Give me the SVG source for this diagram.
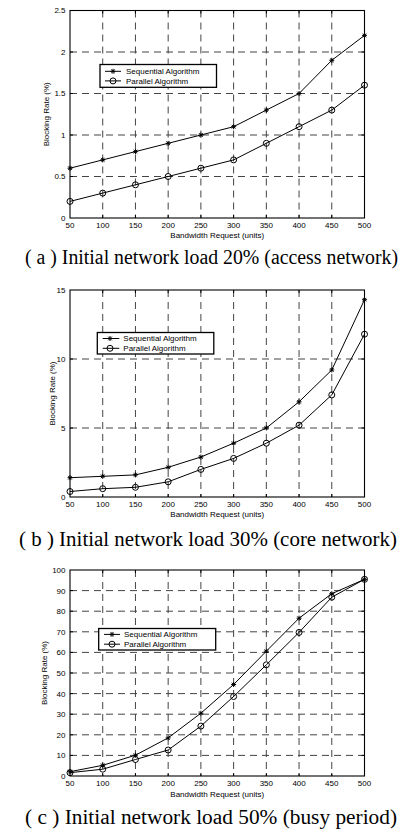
<svg xmlns="http://www.w3.org/2000/svg" width="411" height="830" viewBox="0 0 411 830">
<style>
.grid{stroke:#444;stroke-width:1;stroke-dasharray:7 5;fill:none}
.box{fill:none;stroke:#000;stroke-width:1.1}
.tk{stroke:#000;stroke-width:1;fill:none}
.data{fill:none;stroke:#000;stroke-width:1}
.lab{font-family:"Liberation Sans",Arial,sans-serif;font-size:8px;fill:#000}
.yl{text-anchor:end}
.xl{text-anchor:middle}
.cap{font-family:"Liberation Serif","Times New Roman",serif;font-size:20px;fill:#000}
.leg{fill:#fff;stroke:#000;stroke-width:1.3}
</style>
<defs>
<path id="star" d="M-2.5,0H2.5M0,-2.5V2.5M-1.8,-1.8L1.8,1.8M-1.8,1.8L1.8,-1.8" stroke="#000" stroke-width="1" fill="none"/>
<circle id="circ" r="3" fill="none" stroke="#000" stroke-width="1"/>
</defs>
<rect width="411" height="830" fill="#fff"/>

<!-- Chart A -->
<g id="chartA">
<g class="grid">
<path d="M102.72,10.5V218M135.44,10.5V218M168.17,10.5V218M200.89,10.5V218M233.61,10.5V218M266.33,10.5V218M299.06,10.5V218M331.78,10.5V218"/>
<path d="M70,176.5H364.5M70,135H364.5M70,93.5H364.5M70,52H364.5"/>
</g>
<path class="tk" d="M70,176.5h3M70,135h3M70,93.5h3M70,52h3M364.5,176.5h-3M364.5,135h-3M364.5,93.5h-3M364.5,52h-3M102.72,218v-3M135.44,218v-3M168.17,218v-3M200.89,218v-3M233.61,218v-3M266.33,218v-3M299.06,218v-3M331.78,218v-3M102.72,10.5v3M135.44,10.5v3M168.17,10.5v3M200.89,10.5v3M233.61,10.5v3M266.33,10.5v3M299.06,10.5v3M331.78,10.5v3"/>
<rect class="box" x="70" y="10.5" width="294.5" height="207.5"/>
<g class="lab yl">
<text x="65.5" y="220.9">0</text><text x="65.5" y="179.4">0.5</text><text x="65.5" y="137.9">1</text><text x="65.5" y="96.4">1.5</text><text x="65.5" y="54.9">2</text><text x="65.5" y="13.4">2.5</text>
</g>
<g class="lab xl">
<text x="70" y="227.5">50</text><text x="102.72" y="227.5">100</text><text x="135.44" y="227.5">150</text><text x="168.17" y="227.5">200</text><text x="200.89" y="227.5">250</text><text x="233.61" y="227.5">300</text><text x="266.33" y="227.5">350</text><text x="299.06" y="227.5">400</text><text x="331.78" y="227.5">450</text><text x="364.5" y="227.5">500</text>
<text x="217.25" y="237.5">Bandwidth Request (units)</text>
<text transform="translate(49,114.25) rotate(-90)">Blocking Rate (%)</text>
</g>
<polyline class="data" points="70,168.2 102.72,159.9 135.44,151.6 168.17,143.3 200.89,135 233.61,126.7 266.33,110.1 299.06,93.5 331.78,60.3 364.5,35.4"/>
<polyline class="data" points="70,201.4 102.72,193.1 135.44,184.8 168.17,176.5 200.89,168.2 233.61,159.9 266.33,143.3 299.06,126.7 331.78,110.1 364.5,85.2"/>
<g>
<use href="#star" x="70" y="168.2"/><use href="#star" x="102.72" y="159.9"/><use href="#star" x="135.44" y="151.6"/><use href="#star" x="168.17" y="143.3"/><use href="#star" x="200.89" y="135"/><use href="#star" x="233.61" y="126.7"/><use href="#star" x="266.33" y="110.1"/><use href="#star" x="299.06" y="93.5"/><use href="#star" x="331.78" y="60.3"/><use href="#star" x="364.5" y="35.4"/>
<use href="#circ" x="70" y="201.4"/><use href="#circ" x="102.72" y="193.1"/><use href="#circ" x="135.44" y="184.8"/><use href="#circ" x="168.17" y="176.5"/><use href="#circ" x="200.89" y="168.2"/><use href="#circ" x="233.61" y="159.9"/><use href="#circ" x="266.33" y="143.3"/><use href="#circ" x="299.06" y="126.7"/><use href="#circ" x="331.78" y="110.1"/><use href="#circ" x="364.5" y="85.2"/>
</g>
<g id="legendA">
<rect class="leg" x="100" y="64.5" width="116.5" height="22.8"/>
<path class="data" d="M105,71.3H121M105,80.9H121"/>
<use href="#star" x="113" y="71.3"/><use href="#circ" x="113" y="80.9"/>
<text class="lab" x="126" y="74.2">Sequential Algorithm</text>
<text class="lab" x="126" y="83.8">Parallel Algorithm</text>
</g>
<text class="cap" x="25" y="264" textLength="373" lengthAdjust="spacingAndGlyphs">( a ) Initial network load 20% (access network)</text>
</g>

<!-- Chart B -->
<g id="chartB">
<g class="grid">
<path d="M102.72,290V497M135.44,290V497M168.17,290V497M200.89,290V497M233.61,290V497M266.33,290V497M299.06,290V497M331.78,290V497"/>
<path d="M70,428H364.5M70,359H364.5"/>
</g>
<path class="tk" d="M70,428h3M70,359h3M364.5,428h-3M364.5,359h-3M102.72,497v-3M135.44,497v-3M168.17,497v-3M200.89,497v-3M233.61,497v-3M266.33,497v-3M299.06,497v-3M331.78,497v-3M102.72,290v3M135.44,290v3M168.17,290v3M200.89,290v3M233.61,290v3M266.33,290v3M299.06,290v3M331.78,290v3"/>
<rect class="box" x="70" y="290" width="294.5" height="207"/>
<g class="lab yl">
<text x="65.5" y="499.9">0</text><text x="65.5" y="430.9">5</text><text x="65.5" y="361.9">10</text><text x="65.5" y="292.9">15</text>
</g>
<g class="lab xl">
<text x="70" y="507">50</text><text x="102.72" y="507">100</text><text x="135.44" y="507">150</text><text x="168.17" y="507">200</text><text x="200.89" y="507">250</text><text x="233.61" y="507">300</text><text x="266.33" y="507">350</text><text x="299.06" y="507">400</text><text x="331.78" y="507">450</text><text x="364.5" y="507">500</text>
<text x="217.25" y="517">Bandwidth Request (units)</text>
<text transform="translate(55,393.5) rotate(-90)">Blocking Rate (%)</text>
</g>
<polyline class="data" points="70,477.7 102.72,476.3 135.44,474.9 168.17,467.3 200.89,457 233.61,443.2 266.33,428 299.06,401.8 331.78,370 364.5,299.7"/>
<polyline class="data" points="70,491.5 102.72,488.7 135.44,487.3 168.17,481.8 200.89,469.4 233.61,458.4 266.33,443.2 299.06,425.2 331.78,394.9 364.5,334.2"/>
<g>
<use href="#star" x="70" y="477.7"/><use href="#star" x="102.72" y="476.3"/><use href="#star" x="135.44" y="474.9"/><use href="#star" x="168.17" y="467.3"/><use href="#star" x="200.89" y="457"/><use href="#star" x="233.61" y="443.2"/><use href="#star" x="266.33" y="428"/><use href="#star" x="299.06" y="401.8"/><use href="#star" x="331.78" y="370"/><use href="#star" x="364.5" y="299.7"/>
<use href="#circ" x="70" y="491.5"/><use href="#circ" x="102.72" y="488.7"/><use href="#circ" x="135.44" y="487.3"/><use href="#circ" x="168.17" y="481.8"/><use href="#circ" x="200.89" y="469.4"/><use href="#circ" x="233.61" y="458.4"/><use href="#circ" x="266.33" y="443.2"/><use href="#circ" x="299.06" y="425.2"/><use href="#circ" x="331.78" y="394.9"/><use href="#circ" x="364.5" y="334.2"/>
</g>
<g id="legendB">
<rect class="leg" x="97.3" y="332.5" width="116.5" height="21.5"/>
<path class="data" d="M102.7,338.5H119.3M102.7,348.3H119.3"/>
<use href="#star" x="110" y="338.5"/><use href="#circ" x="110" y="348.3"/>
<text class="lab" x="123.3" y="341.3">Sequential Algorithm</text>
<text class="lab" x="123.3" y="351.1">Parallel Algorithm</text>
</g>
<text class="cap" x="19" y="546" textLength="378" lengthAdjust="spacingAndGlyphs">( b ) Initial network load 30% (core network)</text>
</g>

<!-- Chart C -->
<g id="chartC">
<g class="grid">
<path d="M102.72,570V776M135.44,570V776M168.17,570V776M200.89,570V776M233.61,570V776M266.33,570V776M299.06,570V776M331.78,570V776"/>
<path d="M70,755.4H364.5M70,734.8H364.5M70,714.2H364.5M70,693.6H364.5M70,673H364.5M70,652.4H364.5M70,631.8H364.5M70,611.2H364.5M70,590.6H364.5"/>
</g>
<path class="tk" d="M70,755.4h3M70,734.8h3M70,714.2h3M70,693.6h3M70,673h3M70,652.4h3M70,631.8h3M70,611.2h3M70,590.6h3M364.5,755.4h-3M364.5,734.8h-3M364.5,714.2h-3M364.5,693.6h-3M364.5,673h-3M364.5,652.4h-3M364.5,631.8h-3M364.5,611.2h-3M364.5,590.6h-3M102.72,776v-3M135.44,776v-3M168.17,776v-3M200.89,776v-3M233.61,776v-3M266.33,776v-3M299.06,776v-3M331.78,776v-3M102.72,570v3M135.44,570v3M168.17,570v3M200.89,570v3M233.61,570v3M266.33,570v3M299.06,570v3M331.78,570v3"/>
<rect class="box" x="70" y="570" width="294.5" height="206"/>
<g class="lab yl">
<text x="65.5" y="778.9">0</text><text x="65.5" y="758.3">10</text><text x="65.5" y="737.7">20</text><text x="65.5" y="717.1">30</text><text x="65.5" y="696.5">40</text><text x="65.5" y="675.9">50</text><text x="65.5" y="655.3">60</text><text x="65.5" y="634.7">70</text><text x="65.5" y="614.1">80</text><text x="65.5" y="593.5">90</text><text x="65.5" y="572.9">100</text>
</g>
<g class="lab xl">
<text x="70" y="786">50</text><text x="102.72" y="786">100</text><text x="135.44" y="786">150</text><text x="168.17" y="786">200</text><text x="200.89" y="786">250</text><text x="233.61" y="786">300</text><text x="266.33" y="786">350</text><text x="299.06" y="786">400</text><text x="331.78" y="786">450</text><text x="364.5" y="786">500</text>
<text x="217.25" y="797">Bandwidth Request (units)</text>
<text transform="translate(47,673) rotate(-90)">Blocking Rate (%)</text>
</g>
<polyline class="data" points="70,771.7 102.72,765.3 135.44,755.2 168.17,737.9 200.89,713.2 233.61,684.5 266.33,651.2 299.06,618.2 331.78,593.7 364.5,579.3"/>
<polyline class="data" points="70,772.7 102.72,769.2 135.44,759.5 168.17,750 200.89,726.1 233.61,696.5 266.33,664.8 299.06,632.4 331.78,597.2 364.5,579.3"/>
<g>
<use href="#star" x="70" y="771.7"/><use href="#star" x="102.72" y="765.3"/><use href="#star" x="135.44" y="755.2"/><use href="#star" x="168.17" y="737.9"/><use href="#star" x="200.89" y="713.2"/><use href="#star" x="233.61" y="684.5"/><use href="#star" x="266.33" y="651.2"/><use href="#star" x="299.06" y="618.2"/><use href="#star" x="331.78" y="593.7"/><use href="#star" x="364.5" y="579.3"/>
<use href="#circ" x="70" y="772.7"/><use href="#circ" x="102.72" y="769.2"/><use href="#circ" x="135.44" y="759.5"/><use href="#circ" x="168.17" y="750"/><use href="#circ" x="200.89" y="726.1"/><use href="#circ" x="233.61" y="696.5"/><use href="#circ" x="266.33" y="664.8"/><use href="#circ" x="299.06" y="632.4"/><use href="#circ" x="331.78" y="597.2"/><use href="#circ" x="364.5" y="579.3"/>
</g>
<g id="legendC">
<rect class="leg" x="98.7" y="628.5" width="117" height="21.5"/>
<path class="data" d="M104,634.4H120M104,644.2H120"/>
<use href="#star" x="112" y="634.4"/><use href="#circ" x="112" y="644.2"/>
<text class="lab" x="124" y="637.2">Sequential Algorithm</text>
<text class="lab" x="124" y="647">Parallel Algorithm</text>
</g>
<text class="cap" x="25" y="824" textLength="372" lengthAdjust="spacingAndGlyphs">( c ) Initial network load 50% (busy period)</text>
</g>
</svg>
